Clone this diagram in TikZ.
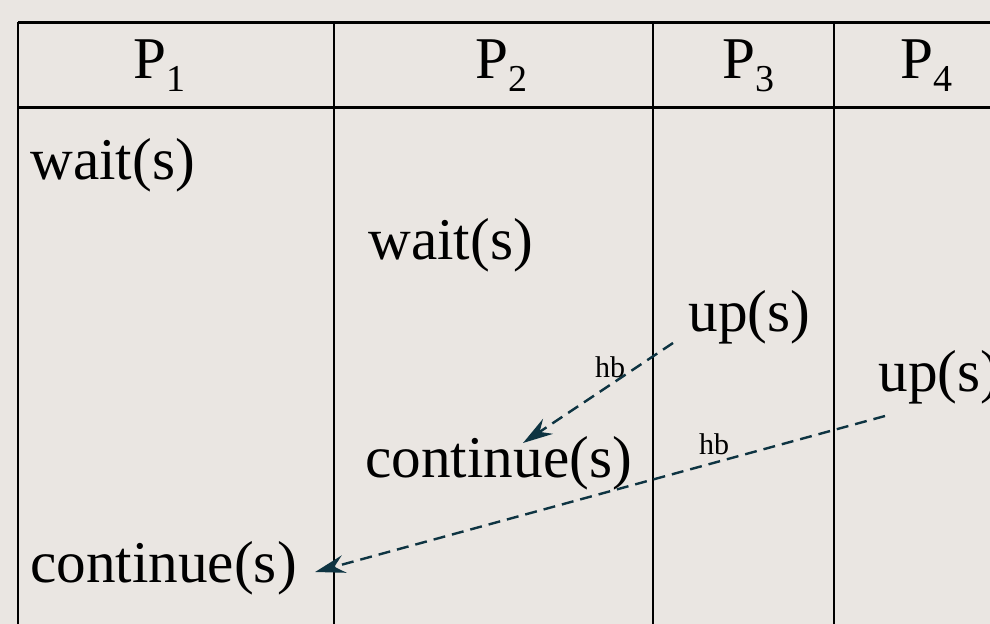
\documentclass[tikz,border=0pt]{standalone}
\usepackage{fontspec}
\setmainfont{Liberation Serif}
\usetikzlibrary{arrows.meta,calc}

\definecolor{paper}{RGB}{234,230,226}
\definecolor{hbcol}{RGB}{14,52,66}
\newcommand{\proc}[1]{P\raisebox{-6.5pt}{\fontsize{19}{22}\selectfont #1}}

\begin{document}
\begin{tikzpicture}[x=0.5pt,y=-0.5pt,
    txt/.style={font=\fontsize{29.6}{35}\selectfont, inner sep=0, anchor=base west},
    hblabel/.style={font=\fontsize{15}{18}\selectfont, inner sep=0, text=black},
    hbarrow/.style={draw=hbcol, line width=1.2pt, dash pattern=on 6pt off 3.5pt,
      -{Stealth[length=15pt,width=9pt,inset=5pt]}}]
  \fill[paper] (0,0) rectangle (990,624);
  \useasboundingbox (0,0) rectangle (990,624);
  % table
  \draw[line width=1.5pt] (18,22.5) -- (990,22.5);
  \draw[line width=1.5pt] (18,108) -- (990,108);
  \foreach \x in {18,334,653,834}
    \draw[line width=1.2pt] (\x,22.5) -- (\x,624);
  % headers
  \node[txt] (h1) at (133,79) {\proc{1}};
  \node[txt] (h2) at (475,79) {\proc{2}};
  \node[txt] (h3) at (722,79) {\proc{3}};
  \node[txt] (h4) at (900,79) {\proc{4}};
  % events
  \node[txt] (w1) at (30,180) {wait(s)};
  \node[txt] (w2) at (368,260) {wait(s)};
  \node[txt] (u3) at (688,332) {up(s)};
  \node[txt] (u4) at (878,392) {up(s)};
  \node[txt] (c2) at (365,478) {continue(s)};
  \node[txt] (c1) at (30,582) {continue(s)};
  % happens-before
  \draw[hbarrow] ($(u3.base west)+(-15,11)$) -- node[hblabel,pos=0.42,above=3pt] (hb1) {hb}
    ($(c2.base west)+(158,-35)$);
  \draw[hbarrow] ($(u4.base west)+(7,24)$) -- node[hblabel,pos=0.3,above=3.5pt] (hb2) {hb}
    ($(c1.base east)+(18,-10)$);
\end{tikzpicture}
\end{document}
